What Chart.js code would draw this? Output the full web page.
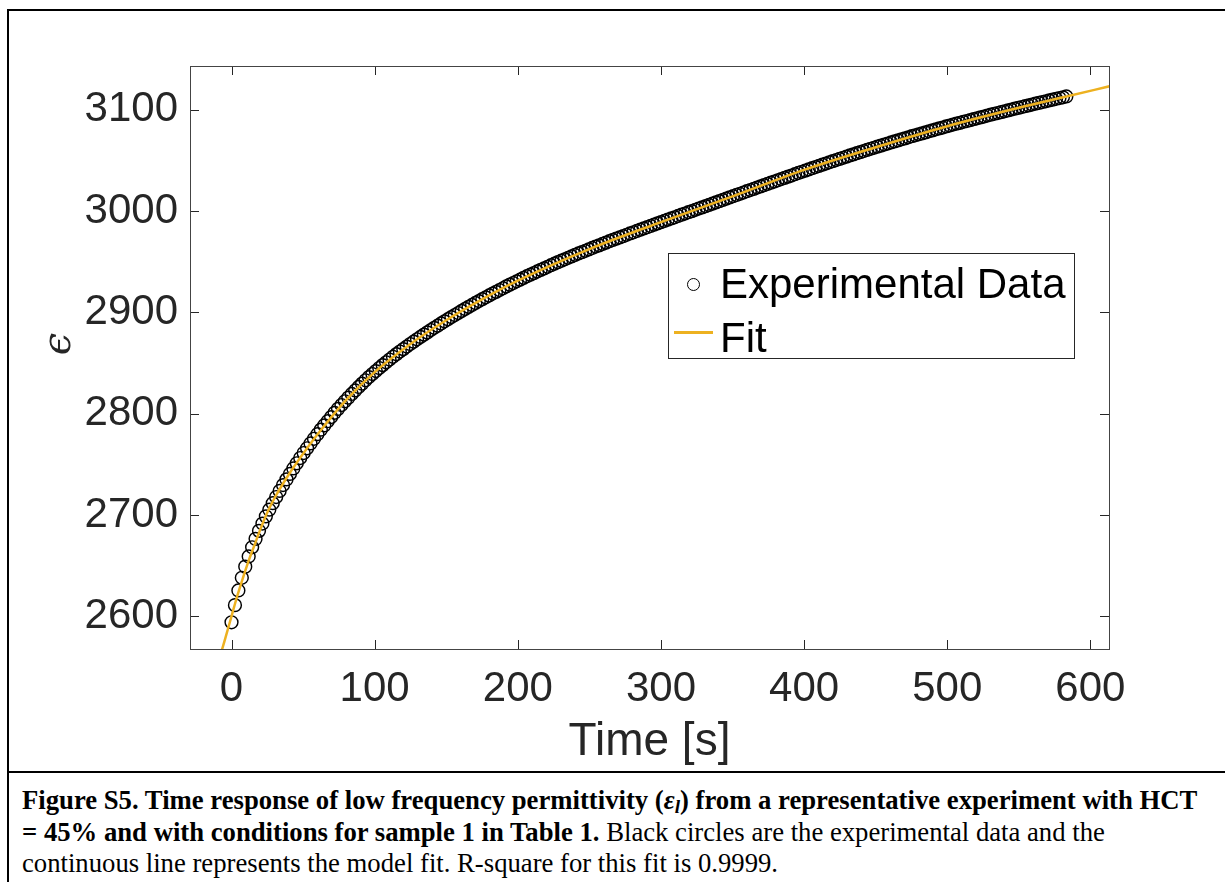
<!DOCTYPE html>
<html>
<head>
<meta charset="utf-8">
<script src="https://cdn.jsdelivr.net/npm/chart.js@4"></script>
<style>
  html, body { margin: 0; padding: 0; background: #fff; width: 1225px; height: 882px; overflow: hidden; }
  #frame { position: absolute; left: 7px; top: 9px; width: 1250px; height: 900px; border-left: 2px solid #000; border-top: 2px solid #000; }
  #capline { position: absolute; left: 7px; top: 771px; width: 1250px; height: 2px; background: #000; }
  #chart { position: absolute; left: 0; top: 0; z-index: 1; }
  #legend { position: absolute; left: 668px; top: 253px; width: 405px; height: 104px; border: 1px solid #262626; background: #fff; z-index: 2;
            font-family: "Liberation Sans", Arial, sans-serif; font-size: 42px; line-height: 42px; color: #000; }
  #legend .txt { position: absolute; left: 51px; white-space: nowrap; }
  #legend .mk { position: absolute; left: 18px; top: 24px; width: 11px; height: 11px; border: 1.4px solid #000; border-radius: 50%; }
  #legend .ln { position: absolute; left: 5px; top: 77px; width: 39px; height: 2.5px; background: #EDB120; }
  #caption { position: absolute; left: 22px; top: 785px; width: 1200px; z-index: 2;
             font-family: "Liberation Serif", "Times New Roman", serif; font-size: 26.7px; line-height: 31.5px; color: #000; white-space: nowrap; }
  #caption sub { font-size: 0.72em; line-height: 0; vertical-align: -0.22em; }
</style>
</head>
<body>
<div id="frame"></div>
<div id="capline"></div>
<canvas id="chart" width="1225" height="770"></canvas>
<div id="legend">
  <div class="mk"></div><div class="txt" style="top:9px">Experimental Data</div>
  <div class="ln"></div><div class="txt" style="top:63px">Fit</div>
</div>
<div id="caption">
  <b>Figure S5. Time response of low frequency permittivity (<i>ε<sub>l</sub></i>) from a representative experiment with HCT</b><br>
  <b>= 45% and with conditions for sample 1 in Table 1.</b> Black circles are the experimental data and the<br>
  continuous line represents the model fit. R-square for this fit is 0.9999.
</div>
<script>
// measured data: time [s] and permittivity
const timeS = [
  0,2.4,4.8,7.2,9.6,12,14.4,16.8,19.2,21.6,
  24,26.4,28.8,31.2,33.6,36,38.4,40.8,43.2,45.6,
  48,50.4,52.8,55.2,57.6,60,62.4,64.8,67.2,69.6,
  72,74.4,76.8,79.2,81.6,84,86.4,88.8,91.2,93.6,
  96,98.4,100.8,103.2,105.6,108,110.4,112.8,115.2,117.6,
  120,122.4,124.8,127.2,129.6,132,134.4,136.8,139.2,141.6,
  144,146.4,148.8,151.2,153.6,156,158.4,160.8,163.2,165.6,
  168,170.4,172.8,175.2,177.6,180,182.4,184.8,187.2,189.6,
  192,194.4,196.8,199.2,201.6,204,206.4,208.8,211.2,213.6,
  216,218.4,220.8,223.2,225.6,228,230.4,232.8,235.2,237.6,
  240,242.4,244.8,247.2,249.6,252,254.4,256.8,259.2,261.6,
  264,266.4,268.8,271.2,273.6,276,278.4,280.8,283.2,285.6,
  288,290.4,292.8,295.2,297.6,300,302.4,304.8,307.2,309.6,
  312,314.4,316.8,319.2,321.6,324,326.4,328.8,331.2,333.6,
  336,338.4,340.8,343.2,345.6,348,350.4,352.8,355.2,357.6,
  360,362.4,364.8,367.2,369.6,372,374.4,376.8,379.2,381.6,
  384,386.4,388.8,391.2,393.6,396,398.4,400.8,403.2,405.6,
  408,410.4,412.8,415.2,417.6,420,422.4,424.8,427.2,429.6,
  432,434.4,436.8,439.2,441.6,444,446.4,448.8,451.2,453.6,
  456,458.4,460.8,463.2,465.6,468,470.4,472.8,475.2,477.6,
  480,482.4,484.8,487.2,489.6,492,494.4,496.8,499.2,501.6,
  504,506.4,508.8,511.2,513.6,516,518.4,520.8,523.2,525.6,
  528,530.4,532.8,535.2,537.6,540,542.4,544.8,547.2,549.6,
  552,554.4,556.8,559.2,561.6,564,566.4,568.8,571.2,573.6,
  576,578.4,580.8,583.2
];
const epsData = [
  2594.1,2611.0,2625.5,2638.0,2649.0,2659.0,2668.1,2676.4,2684.3,2691.5,
  2698.6,2705.2,2711.6,2717.7,2723.7,2729.5,2735.1,2740.5,2745.9,2751.0,
  2756.2,2761.1,2765.8,2770.6,2775.2,2779.7,2784.2,2788.4,2792.5,2796.6,
  2800.8,2804.7,2808.5,2812.2,2815.8,2819.4,2822.9,2826.3,2829.6,2832.9,
  2836.1,2839.1,2842.0,2845.0,2847.9,2850.7,2853.4,2856.1,2858.7,2861.3,
  2863.7,2866.2,2868.7,2871.0,2873.4,2875.7,2878.0,2880.2,2882.5,2884.7,
  2886.8,2889.0,2891.1,2893.2,2895.3,2897.3,2899.3,2901.4,2903.4,2905.4,
  2907.3,2909.2,2911.1,2913.0,2914.8,2916.6,2918.5,2920.2,2922.0,2923.7,
  2925.6,2927.3,2928.9,2930.6,2932.2,2934.0,2935.6,2937.2,2938.7,2940.3,
  2941.9,2943.4,2944.9,2946.5,2948.0,2949.5,2950.9,2952.3,2953.8,2955.2,
  2956.7,2958.1,2959.4,2960.7,2962.1,2963.5,2964.9,2966.1,2967.5,2968.8,
  2970.2,2971.5,2972.7,2973.9,2975.2,2976.5,2977.8,2979.0,2980.3,2981.5,
  2982.8,2984.0,2985.2,2986.5,2987.8,2989.0,2990.2,2991.5,2992.6,2993.8,
  2995.1,2996.3,2997.5,2998.8,2999.9,3001.2,3002.4,3003.6,3004.8,3006.0,
  3007.2,3008.5,3009.7,3010.9,3012.1,3013.4,3014.6,3015.8,3017.0,3018.2,
  3019.5,3020.7,3021.8,3023.1,3024.3,3025.5,3026.7,3027.9,3029.1,3030.3,
  3031.5,3032.7,3033.9,3035.0,3036.3,3037.5,3038.7,3039.8,3041.0,3042.2,
  3043.4,3044.5,3045.7,3046.8,3048.1,3049.2,3050.3,3051.4,3052.5,3053.6,
  3054.8,3055.9,3057.0,3058.1,3059.2,3060.3,3061.4,3062.4,3063.5,3064.5,
  3065.6,3066.6,3067.6,3068.7,3069.7,3070.8,3071.7,3072.7,3073.8,3074.7,
  3075.7,3076.6,3077.6,3078.7,3079.6,3080.6,3081.5,3082.4,3083.4,3084.3,
  3085.3,3086.2,3087.0,3088.0,3088.8,3089.7,3090.7,3091.5,3092.4,3093.2,
  3094.2,3095.0,3095.9,3096.7,3097.6,3098.4,3099.2,3100.1,3101.0,3101.8,
  3102.6,3103.4,3104.2,3105.1,3105.9,3106.7,3107.5,3108.3,3109.1,3109.9,
  3110.7,3111.5,3112.2,3113.0
];

// model fit curve
const fitTime  = [-10, -5, 0, 4, 8, 12, 16, 20, 25, 30, 40, 50, 60, 80, 100, 125, 150, 175, 200, 250, 300, 350, 400, 450, 500, 550, 583.2, 620];
const fitValue = [2551, 2575, 2600, 2620, 2638, 2655, 2670, 2685.3, 2702.4, 2716.5, 2739.9, 2760.4, 2779.4, 2813.4, 2841.0, 2868.8, 2892.2, 2912.8, 2931.2, 2962.4, 2989.0, 3014.4, 3040.6, 3062.9, 3083.7, 3101.9, 3113.0, 3125.3];

const xTicks = [0, 100, 200, 300, 400, 500, 600];
const yTicks = [2600, 2700, 2800, 2900, 3000, 3100];
const xTitle = 'Time [s]';
const yTitle = 'ϵ';

const axisColor = '#262626';

// matlab style box with inward ticks on all four sides
const boxPlugin = {
  id: 'boxPlugin',
  afterDatasetsDraw(chart) {
    const { ctx, chartArea: a, scales } = chart;
    ctx.save();
    ctx.strokeStyle = axisColor;
    ctx.lineWidth = 1;
    ctx.beginPath();
    scales.x.ticks.forEach(t => {
      const px = Math.round(scales.x.getPixelForValue(t.value)) + 0.5;
      ctx.moveTo(px, a.bottom); ctx.lineTo(px, a.bottom - 9);
      ctx.moveTo(px, a.top); ctx.lineTo(px, a.top + 9);
    });
    scales.y.ticks.forEach(t => {
      const py = Math.round(scales.y.getPixelForValue(t.value)) + 0.5;
      ctx.moveTo(a.left, py); ctx.lineTo(a.left + 9, py);
      ctx.moveTo(a.right, py); ctx.lineTo(a.right - 9, py);
    });
    ctx.stroke();
    ctx.strokeStyle = '#444';
    ctx.strokeRect(Math.round(a.left) + 0.5, Math.round(a.top) + 0.5, Math.round(a.right - a.left), Math.round(a.bottom - a.top));
    // y axis label
    ctx.translate(70, 344);
    ctx.rotate(-Math.PI / 2);
    ctx.fillStyle = axisColor;
    ctx.font = 'italic 40px "DejaVu Serif"';
    ctx.textAlign = 'center';
    ctx.textBaseline = 'alphabetic';
    ctx.fillText(yTitle, 0, 0);
    ctx.restore();
  }
};

const ctx = document.getElementById('chart').getContext('2d');
new Chart(ctx, {
  type: 'scatter',
  data: {
    datasets: [
      {
        label: 'Fit',
        type: 'line',
        data: fitTime.map((t, i) => ({ x: t, y: fitValue[i] })),
        borderColor: '#EDB120',
        borderWidth: 2.5,
        pointRadius: 0,
        fill: false,
        cubicInterpolationMode: 'monotone',
        clip: 0
      },
      {
        label: 'Experimental Data',
        data: timeS.map((t, i) => ({ x: t, y: epsData[i] })),
        pointStyle: 'circle',
        pointRadius: 6.4,
        borderWidth: 1.45,
        borderColor: '#000',
        backgroundColor: 'rgba(0,0,0,0)'
      }
    ]
  },
  options: {
    responsive: false,
    animation: false,
    devicePixelRatio: 1,
    layout: { padding: { left: 0, right: 116, top: 66, bottom: 0 } },
    plugins: { legend: { display: false }, tooltip: { enabled: false } },
    scales: {
      x: {
        type: 'linear',
        min: -29,
        max: 613,
        afterFit: s => { s.height = 121; },
        afterBuildTicks: s => { s.ticks = xTicks.map(v => ({ value: v })); },
        grid: { display: false, drawTicks: false },
        border: { display: false },
        ticks: { color: axisColor, padding: 15, maxRotation: 0, callback: v => String(v), font: { family: 'Liberation Sans', size: 42 } },
        title: { display: true, text: xTitle, color: axisColor, padding: { top: 0, bottom: 0 }, font: { family: 'Liberation Sans', size: 46 } }
      },
      y: {
        type: 'linear',
        min: 2567.7,
        max: 3143.1,
        afterFit: s => { s.width = 190; },
        afterBuildTicks: s => { s.ticks = yTicks.map(v => ({ value: v })); },
        grid: { display: false, drawTicks: false },
        border: { display: false },
        ticks: { color: axisColor, padding: 12, callback: v => String(v), font: { family: 'Liberation Sans', size: 42 } }
      }
    }
  },
  plugins: [boxPlugin]
});
</script>
</body>
</html>
